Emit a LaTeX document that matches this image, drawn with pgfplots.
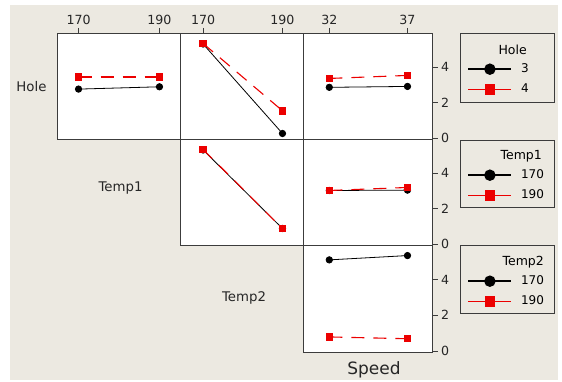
\documentclass[border=0pt]{standalone}
\usepackage{fontspec}
\setmainfont{DejaVu Sans}
\usepackage{pgfplots}
\pgfplotsset{compat=1.18}
\definecolor{bg}{RGB}{236,233,225}
\definecolor{frm}{RGB}{60,60,60}
\definecolor{mred}{RGB}{236,0,0}
\begin{document}
\begin{tikzpicture}
\path[fill=white] (0pt,0pt) rectangle (562pt,382pt);
\fill[bg] (10pt,2pt) rectangle (558pt,377pt);
\pgfplotsset{
  panel/.style={scale only axis, width=123pt, height=106pt, anchor=north west,
    ymin=-0.05, ymax=5.92, ytick=\empty, xtick=\empty,
    axis line style={frm, line width=0.8pt},
    axis background/.style={fill=white},
    tick style={frm, line width=0.8pt}, major tick length=5pt, tick align=outside,
    /pgf/number format/assume math mode=true,
    ticklabel style={font=\fontsize{12.6}{14}\selectfont, text=black!85},
    clip=false},
  c1/.style={xmin=164.8, xmax=195.2},
  c2/.style={xmin=164.3, xmax=195.3},
  c3/.style={xmin=30.35, xmax=38.6, width=129pt},
  topx/.style={xtick pos=upper, xticklabel pos=upper},
  righty/.style={ytick={0,2,4}, ytick pos=right, yticklabel pos=right},
  blk/.style={black, line width=0.8pt, mark=*, mark size=3.2pt,
    legend image post style={line width=1.4pt, mark size=5pt}},
  rd/.style={mred, line width=1.1pt, dash pattern=on 13pt off 9pt, mark=square*, mark size=3.2pt, mark options={solid},
    legend image post style={solid, line width=0.6pt, mark size=4.8pt}},
  leg/.style={legend style={at={(1,1)}, anchor=north west, xshift=35pt, yshift=-30pt,
    draw=none, fill=none, inner sep=0pt, row sep=8pt,
    nodes={inner sep=0pt, text height=9pt, text depth=3pt, font=\fontsize{12}{14}\selectfont},
    /tikz/every odd column/.style={column sep=9pt}},
    legend cell align=left,
    legend image code/.code={\draw[mark repeat=2, mark phase=2, ##1] plot coordinates {(0pt,0pt) (21.5pt,0pt) (43pt,0pt)};}},
}
% Row 1: Hole
\begin{axis}[panel, c1, topx, xtick={170,190}, at={(57.5pt,349pt)}]
\addplot[blk] coordinates {(170,2.76) (190,2.89)};
\addplot[rd] coordinates {(170,3.44) (190,3.44)};
\end{axis}
\begin{axis}[panel, c2, topx, xtick={170,190}, at={(180.5pt,349pt)}]
\addplot[blk] coordinates {(170,5.30) (190,0.26)};
\addplot[rd] coordinates {(170,5.33) (190,1.54)};
\end{axis}
\begin{axis}[panel, c3, topx, righty, xtick={32,37}, at={(303.5pt,349pt)}, leg]
\addplot[blk] coordinates {(32,2.86) (37,2.91)};
\addplot[rd] coordinates {(32,3.36) (37,3.53)};
\legend{3,4}
\end{axis}
% Row 2: Temp1
\begin{axis}[panel, c2, at={(180.5pt,243pt)}]
\addplot[blk] coordinates {(170,5.30) (190,0.88)};
\addplot[rd] coordinates {(170,5.33) (190,0.88)};
\end{axis}
\begin{axis}[panel, c3, righty, at={(303.5pt,243pt)}, leg]
\addplot[blk] coordinates {(32,3.02) (37,3.04)};
\addplot[rd] coordinates {(32,3.02) (37,3.19)};
\legend{170,190}
\end{axis}
% Row 3: Temp2
\begin{axis}[panel, c3, righty, at={(303.5pt,137pt)}, height=107pt, leg]
\addplot[blk] coordinates {(32,5.09) (37,5.33)};
\addplot[rd] coordinates {(32,0.79) (37,0.69)};
\legend{170,190}
\end{axis}
% legend boxes and titles
\draw[frm, line width=0.9pt] (460.7pt,349pt) rectangle (554.5pt,280pt);
\draw[frm, line width=0.9pt] (460.7pt,242pt) rectangle (554.5pt,175pt);
\draw[frm, line width=0.9pt] (460.7pt,137pt) rectangle (554.5pt,69pt);
\node[anchor=east, inner sep=0pt, font=\fontsize{12.5}{14}\selectfont] at (527pt,332pt) {Hole};
\node[anchor=east, inner sep=0pt, font=\fontsize{12.5}{14}\selectfont] at (542pt,226pt) {Temp1};
\node[anchor=east, inner sep=0pt, font=\fontsize{12.5}{14}\selectfont] at (544pt,119.5pt) {Temp2};
% variable labels
\node[font=\fontsize{13.3}{15}\selectfont, text=black!85] at (31.5pt,295pt) {Hole};
\node[font=\fontsize{13.3}{15}\selectfont, text=black!85] at (120.5pt,194pt) {Temp1};
\node[font=\fontsize{13.3}{15}\selectfont, text=black!85] at (244pt,84pt) {Temp2};
\node[font=\fontsize{17}{19}\selectfont, text=black!85] at (374pt,12pt) {Speed};
\end{tikzpicture}
\end{document}
